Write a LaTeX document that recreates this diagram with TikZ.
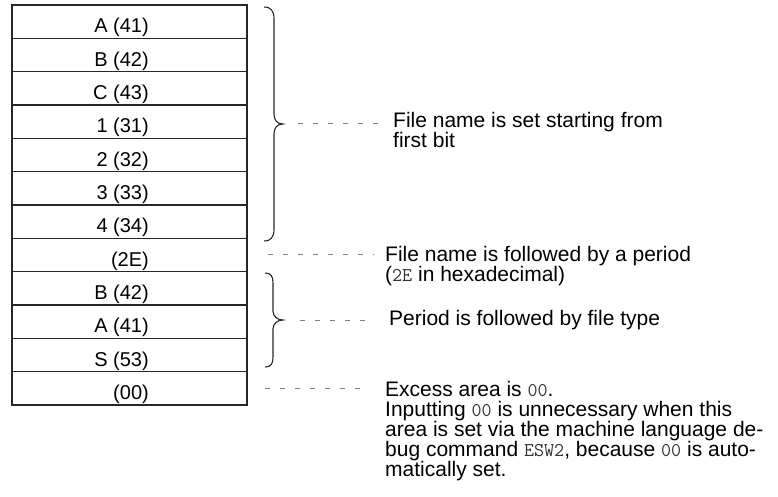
\documentclass[tikz,border=0pt]{standalone}
\usepackage{fontspec}
\setmainfont{Liberation Sans}
\newcommand\mtext[1]{{\fontsize{19.5}{20}\ttfamily\color{black!80}#1}}
\begin{document}
\begin{tikzpicture}[x=1pt,y=-1pt,
  cell/.style={draw=black!85, line width=1.1pt, minimum width=235pt, minimum height=33.33pt, inner sep=0pt, outer sep=0pt},
  celltext/.style={anchor=base east, font=\fontsize{20}{20}\selectfont, inner sep=0pt},
  note/.style={anchor=base west, align=left, font=\fontsize{21}{20}\selectfont, inner sep=0pt},
  lead/.style={draw=black!50, line width=1pt, dash pattern=on 5pt off 10pt},
  brace/.style={draw=black!85, line width=1.1pt}]
\useasboundingbox (0,0) rectangle (778,497);
% memory cells
\foreach \t [count=\i] in {A (41),B (42),C (43),1 (31),2 (32),3 (33),4 (34),(2E),B (42),A (41),S (53),(00)}{
  \node[cell] (c\i) at (129.5,{5+33.333*(\i-0.5)}) {};
  \node[celltext] (t\i) at (149,{5+33.333*(\i-1)+28}) {\t};
}
% braces
\coordinate (b1) at (283,124);
\coordinate (b2) at (283,320);
\draw[brace] (264,7) .. controls (271,7) and (274,11) .. (274,19) -- (274,114)
  .. controls (274,120) and (277,124) .. (b1)
  .. controls (277,124) and (274,128) .. (274,134) -- (274,229)
  .. controls (274,237) and (271,241) .. (264,241);
\draw[brace] (265,273) .. controls (271,273) and (273,276) .. (273,283) -- (273,311)
  .. controls (273,316) and (277,320) .. (b2)
  .. controls (277,320) and (273,324) .. (273,329) -- (273,357)
  .. controls (273,364) and (271,367) .. (265,367);
% notes (base anchor = baseline of the last line)
\node[note] (n1) at (393,148) {File name is set starting from\\first bit};
\node[note] (n2) at (385,281) {File name is followed by a period\\(\mtext{2E} in hexadecimal)};
\node[note] (n3) at (389,325) {Period is followed by file type};
\node[note] (n4) at (385,476.7) {Excess area is \mtext{00}.\\Inputting \mtext{00} is unnecessary when this\\area is set via the machine language de-\\bug command \mtext{ESW2}, because \mtext{00} is auto-\\matically set.};
% leaders
\coordinate (l1a) at (298,124); \coordinate (l1b) at (380,124);
\coordinate (l2a) at ([xshift=21pt]c8.east); \coordinate (l2b) at (374,255);
\coordinate (l3a) at (300,320); \coordinate (l3b) at (374,320);
\coordinate (l4a) at ([xshift=18pt]c12.east); \coordinate (l4b) at (370,388.3);
\draw[lead] (l1a) -- (l1b);
\draw[lead] (l2a) -- (l2a -| l2b);
\draw[lead] (l3a) -- (l3b);
\draw[lead] (l4a) -- (l4a -| l4b);
\end{tikzpicture}
\end{document}
